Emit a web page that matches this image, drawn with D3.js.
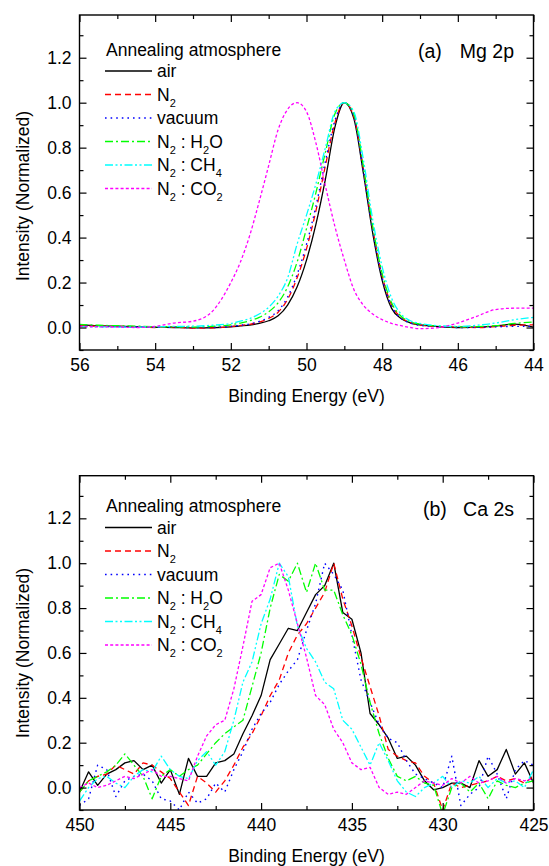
<!DOCTYPE html>
<html>
<head>
<meta charset="utf-8">
<script src="https://cdn.jsdelivr.net/npm/d3@7"></script>
<style>
  html, body { margin: 0; padding: 0; background: #ffffff; }
  svg { display: block; }
  text { font-family: "Liberation Sans", Arial, Helvetica, sans-serif; fill: #000; white-space: pre; }
</style>
</head>
<body>
<svg id="chart" width="549" height="866"></svg>
<script>
// ---------------- DATA ----------------
// Panel (a) Mg 2p
const mgEnergy = [56, 55.5, 55, 54.5, 54, 53.5, 53, 52.5, 52, 51.75, 51.5, 51.25, 51, 50.75, 50.5, 50.25, 50, 49.75, 49.5, 49.25, 49, 48.75, 48.5, 48.25, 48, 47.75, 47.5, 47.25, 47, 46.5, 46, 45.5, 45, 44.5, 44];
const mgAir    = [0.012, 0.008, 0.006, 0.004, 0.001, 0.0, -0.002, -0.001, 0.003, 0.007, 0.011, 0.018, 0.03, 0.052, 0.1, 0.18, 0.3, 0.46, 0.66, 0.89, 1.0, 0.93, 0.69, 0.42, 0.21, 0.085, 0.04, 0.02, 0.012, 0.004, 0.0, 0.002, 0.006, 0.015, 0.002];
const mgN2     = [0.008, 0.006, 0.005, 0.003, 0.0, 0.002, -0.003, -0.002, 0.004, 0.009, 0.014, 0.024, 0.04, 0.068, 0.125, 0.22, 0.35, 0.52, 0.72, 0.91, 1.0, 0.94, 0.71, 0.44, 0.23, 0.1, 0.045, 0.022, 0.012, 0.004, 0.002, 0.0, 0.004, 0.01, 0.012];
const mgVacuum = [0.006, 0.005, 0.004, 0.002, 0.002, 0.001, 0.0, 0.001, 0.005, 0.01, 0.016, 0.027, 0.045, 0.075, 0.135, 0.235, 0.37, 0.54, 0.74, 0.92, 1.0, 0.94, 0.7, 0.43, 0.22, 0.095, 0.04, 0.02, 0.01, 0.004, 0.0, 0.001, 0.003, 0.005, 0.005];
const mgH2O    = [0.014, 0.01, 0.008, 0.006, 0.004, 0.003, 0.002, 0.005, 0.012, 0.02, 0.03, 0.045, 0.07, 0.11, 0.18, 0.29, 0.44, 0.6, 0.78, 0.95, 1.0, 0.95, 0.72, 0.45, 0.24, 0.11, 0.05, 0.025, 0.015, 0.006, 0.003, 0.004, 0.008, 0.018, 0.025];
const mgCH4    = [0.004, 0.003, 0.002, 0.002, 0.003, 0.005, 0.006, 0.01, 0.018, 0.028, 0.04, 0.06, 0.09, 0.14, 0.22, 0.37, 0.5, 0.64, 0.8, 0.96, 1.0, 0.96, 0.75, 0.48, 0.27, 0.13, 0.06, 0.03, 0.018, 0.008, 0.005, 0.01, 0.02, 0.035, 0.045];
const mgCO2    = [0.005, 0.003, 0.002, 0.0, 0.005, 0.02, 0.028, 0.07, 0.2, 0.29, 0.41, 0.56, 0.72, 0.88, 0.97, 1.0, 0.96, 0.82, 0.63, 0.45, 0.3, 0.17, 0.1, 0.06, 0.035, 0.018, 0.008, 0.0, -0.005, 0.0, 0.02, 0.05, 0.08, 0.086, 0.086];

// Panel (b) Ca 2s
const caEnergy = [450, 449.5, 449, 448.5, 448, 447.5, 447, 446.5, 446, 445.5,
                  445, 444.5, 444, 443.5, 443, 442.5, 442, 441.5, 441, 440.5,
                  440, 439.5, 439, 438.5, 438, 437.5, 437, 436.5, 436, 435.5,
                  435, 434.5, 434, 433.5, 433, 432.5, 432, 431.5, 431, 430.5,
                  430, 429.5, 429, 428.5, 428, 427.5, 427, 426.5, 426, 425.5,
                  425];
const caAir = [-0.02, 0.07, 0.01, 0.06, 0.08, 0.11, 0.12, 0.08, 0.1, 0.02,
               0.08, -0.03, 0.13, 0.05, 0.05, 0.11, 0.12, 0.15, 0.24, 0.32,
               0.41, 0.57, 0.64, 0.71, 0.7, 0.78, 0.86, 0.9, 1.0, 0.78,
               0.75, 0.6, 0.33, 0.28, 0.22, 0.13, 0.14, 0.1, 0.03, -0.01,
               0.0, 0.02, 0.02, 0.0, 0.12, 0.05, 0.08, 0.17, 0.06, 0.11,
               0.02];
const caN2 = [-0.02, 0.03, 0.05, 0.06, 0.1, 0.08, 0.06, 0.11, 0.1, 0.07,
              0.04, -0.02, -0.08, 0.05, 0.02, -0.02, 0.03, 0.1, 0.18, 0.24,
              0.32, 0.41, 0.48, 0.6, 0.68, 0.73, 0.8, 0.87, 1.0, 0.84,
              0.72, 0.58, 0.45, 0.32, 0.17, 0.14, 0.12, 0.11, 0.05, 0.02,
              -0.1, 0.02, 0.0, 0.01, 0.02, 0.03, 0.05, 0.03, 0.04, 0.02,
              0.05];
const caVacuum = [-0.08, -0.05, 0.1, 0.08, -0.04, 0.03, 0.05, 0.06, 0.03, -0.05,
                  -0.06, -0.1, -0.02, -0.07, -0.05, 0.02, -0.02, 0.08, 0.16, 0.26,
                  0.33, 0.38, 0.46, 0.52, 0.57, 0.7, 0.82, 1.0, 0.95, 0.88,
                  0.68, 0.48, 0.38, 0.28, 0.22, 0.2, 0.12, 0.06, 0.04, 0.02,
                  0.0, 0.14, -0.08, -0.03, 0.0, 0.14, 0.06, -0.05, 0.08, 0.12,
                  0.1];
const caH2O = [-0.02, 0.03, 0.05, 0.07, 0.1, 0.15, 0.1, 0.05, -0.05, 0.05,
               0.08, 0.05, 0.08, 0.1, 0.15, 0.2, 0.24, 0.27, 0.3, 0.45,
               0.6, 0.8, 0.95, 0.92, 1.0, 0.87, 1.0, 0.88, 0.88, 0.77,
               0.68, 0.55, 0.38, 0.24, 0.13, 0.05, 0.03, 0.05, 0.02, 0.01,
               -0.12, 0.0, 0.02, -0.02, 0.02, -0.05, 0.03, 0.01, 0.0, 0.02,
               0.03];
const caCH4 = [-0.06, 0.0, 0.04, 0.05, 0.02, 0.0, 0.05, 0.08, 0.07, 0.14,
               0.08, 0.05, 0.04, 0.12, 0.16, 0.1, 0.16, 0.3, 0.47, 0.56,
               0.73, 0.84, 1.0, 0.94, 0.72, 0.62, 0.56, 0.47, 0.44, 0.3,
               0.26, 0.18, 0.1, 0.2, 0.12, 0.03, -0.02, -0.04, 0.0, 0.02,
               0.05, 0.0, 0.03, 0.02, 0.05, 0.0, 0.04, 0.02, 0.03, 0.0,
               0.08];
const caCO2 = [0.0, 0.02, 0.0, 0.01, 0.03, 0.05, 0.04, 0.06, 0.08, 0.05,
               0.05, 0.04, 0.03, 0.14, 0.23, 0.28, 0.3, 0.44, 0.63, 0.83,
               0.86, 0.98, 1.0, 0.88, 0.73, 0.58, 0.41, 0.37, 0.26, 0.2,
               0.11, 0.08, 0.09, 0.0, -0.03, -0.02, -0.03, 0.0, 0.03, 0.02,
               0.01, 0.04, 0.02, 0.05, 0.02, 0.03, 0.05, 0.02, 0.04, 0.03,
               0.04];

// Tick values
const mgMajorTicks = [56, 54, 52, 50, 48, 46, 44];
const mgMinorTicks = [55, 53, 51, 49, 47, 45];
const caMajorTicks = [450, 445, 440, 435, 430, 425];
const caMinorTicks = [447.5, 442.5, 437.5, 432.5, 427.5];
const yMajorTicks = [0.0, 0.2, 0.4, 0.6, 0.8, 1.0, 1.2];
const yMinorTicks = [-0.1, 0.1, 0.3, 0.5, 0.7, 0.9, 1.1, 1.3];
const yDomain = [-0.1, 1.39];

// Legend text
const legendTitle = "Annealing atmosphere";
const seriesNames = ["air", "N2", "vacuum", "N2 : H2O", "N2 : CH4", "N2 : CO2"];
const legendParts = [
  [["air"]],
  [["N"], ["2", "sub"]],
  [["vacuum"]],
  [["N"], ["2", "sub"], [" : H"], ["2", "sub"], ["O"]],
  [["N"], ["2", "sub"], [" : CH"], ["4", "sub"]],
  [["N"], ["2", "sub"], [" : CO"], ["2", "sub"]]
];
const panelLabels = [["(a)", "Mg 2p"], ["(b)", "Ca 2s"]];
const xTitle = "Binding Energy (eV)";
const yTitle = "Intensity (Normalized)";

// ---------------- STYLES ----------------
const seriesStyles = [
  { color: "#000000", dash: null, width: 1.3 },
  { color: "#ff0000", dash: "6,4", width: 1.3 },
  { color: "#0000ff", dash: "1.6,4", width: 1.4 },
  { color: "#00ff00", dash: "8,3,2,3", width: 1.3 },
  { color: "#00ffff", dash: "8,2.5,2,2.5,2,2.5", width: 1.3 },
  { color: "#ff00ff", dash: "3,2.2", width: 1.3 }
];

const svg = d3.select("#chart");

const panels = [
  {
    id: "a", energy: mgEnergy,
    series: [mgAir, mgN2, mgVacuum, mgH2O, mgCH4, mgCO2],
    xDomain: [56, 44], major: mgMajorTicks, minor: mgMinorTicks,
    x0: 79.5, x1: 533.5, y0: 15, y1: 350,
    curve: d3.curveMonotoneX,
    legendTitleY: 55.5, legendRow0: 71, yTitleCenter: 196,
    label: panelLabels[0], labelY: 57.5
  },
  {
    id: "b", energy: caEnergy,
    series: [caAir, caN2, caVacuum, caH2O, caCH4, caCO2],
    xDomain: [450, 425], major: caMajorTicks, minor: caMinorTicks,
    x0: 79.5, x1: 533.5, y0: 475.7, y1: 810,
    curve: d3.curveLinear,
    legendTitleY: 512, legendRow0: 527.5, yTitleCenter: 653,
    label: panelLabels[1], labelY: 515.5
  }
];

const FS = 17.5;

panels.forEach(p => {
  const g = svg.append("g");
  const x = d3.scaleLinear().domain(p.xDomain).range([p.x0, p.x1]);
  const y = d3.scaleLinear().domain(yDomain).range([p.y1, p.y0]);

  const clipId = "clip-" + p.id;
  g.append("clipPath").attr("id", clipId)
    .append("rect").attr("x", p.x0).attr("y", p.y0)
    .attr("width", p.x1 - p.x0).attr("height", p.y1 - p.y0);

  // Curves
  const line = d3.line().x(d => x(d[0])).y(d => y(d[1])).curve(p.curve);
  const plot = g.append("g").attr("clip-path", `url(#${clipId})`);
  p.series.forEach((vals, i) => {
    const pts = p.energy.map((e, k) => [e, vals[k]]);
    const st = seriesStyles[i];
    plot.append("path")
      .datum(pts)
      .attr("d", line)
      .attr("fill", "none")
      .attr("stroke", st.color)
      .attr("stroke-width", st.width)
      .attr("stroke-dasharray", st.dash)
      .attr("stroke-linejoin", "round");
  });

  // Axes (ticks inward)
  const styleAxis = sel => {
    sel.select(".domain").remove();
    sel.selectAll("line").attr("stroke", "#000").attr("stroke-width", 1.2);
    sel.selectAll("text").attr("font-size", FS).attr("fill", "#000")
      .attr("font-family", '"Liberation Sans", Arial, Helvetica, sans-serif');
  };
  const MAJ = 7, MIN = 4;
  g.append("g").attr("transform", `translate(0,${p.y1})`)
    .call(d3.axisBottom(x).tickValues(p.major).tickSizeInner(-MAJ).tickSizeOuter(0)
      .tickPadding(9).tickFormat(d3.format("d"))).call(styleAxis);
  g.append("g").attr("transform", `translate(0,${p.y1})`)
    .call(d3.axisBottom(x).tickValues(p.minor).tickSizeInner(-MIN).tickSizeOuter(0)
      .tickFormat(() => "")).call(styleAxis);
  g.append("g").attr("transform", `translate(0,${p.y0})`)
    .call(d3.axisTop(x).tickValues(p.major).tickSizeInner(-MAJ).tickSizeOuter(0)
      .tickFormat(() => "")).call(styleAxis);
  g.append("g").attr("transform", `translate(0,${p.y0})`)
    .call(d3.axisTop(x).tickValues(p.minor).tickSizeInner(-MIN).tickSizeOuter(0)
      .tickFormat(() => "")).call(styleAxis);
  g.append("g").attr("transform", `translate(${p.x0},0)`)
    .call(d3.axisLeft(y).tickValues(yMajorTicks).tickSizeInner(-MAJ).tickSizeOuter(0)
      .tickPadding(8).tickFormat(d3.format(".1f"))).call(styleAxis);
  g.append("g").attr("transform", `translate(${p.x0},0)`)
    .call(d3.axisLeft(y).tickValues(yMinorTicks).tickSizeInner(-MIN).tickSizeOuter(0)
      .tickFormat(() => "")).call(styleAxis);
  g.append("g").attr("transform", `translate(${p.x1},0)`)
    .call(d3.axisRight(y).tickValues(yMajorTicks).tickSizeInner(-MAJ).tickSizeOuter(0)
      .tickFormat(() => "")).call(styleAxis);
  g.append("g").attr("transform", `translate(${p.x1},0)`)
    .call(d3.axisRight(y).tickValues(yMinorTicks).tickSizeInner(-MIN).tickSizeOuter(0)
      .tickFormat(() => "")).call(styleAxis);

  // Frame
  g.append("rect").attr("x", p.x0).attr("y", p.y0)
    .attr("width", p.x1 - p.x0).attr("height", p.y1 - p.y0)
    .attr("fill", "none").attr("stroke", "#000").attr("stroke-width", 1.4);

  // Axis titles
  g.append("text").attr("x", (p.x0 + p.x1) / 2).attr("y", p.y1 + 52)
    .attr("text-anchor", "middle").attr("font-size", FS).text(xTitle);
  g.append("text")
    .attr("transform", `translate(29,${p.yTitleCenter}) rotate(-90)`)
    .attr("text-anchor", "middle").attr("font-size", FS).text(yTitle);

  // Legend
  const lx0 = 105, lx1 = 152, tx = 157, rowH = 23.5;
  g.append("text").attr("x", 106).attr("y", p.legendTitleY)
    .attr("font-size", FS).text(legendTitle);
  legendParts.forEach((parts, i) => {
    const ly = p.legendRow0 + i * rowH;
    const st = seriesStyles[i];
    g.append("line").attr("x1", lx0).attr("x2", lx1).attr("y1", ly).attr("y2", ly)
      .attr("stroke", st.color).attr("stroke-width", st.width)
      .attr("stroke-dasharray", st.dash);
    const t = g.append("text").attr("x", tx).attr("y", ly + 6).attr("font-size", FS)
      .attr("aria-label", seriesNames[i]);
    let prevSub = false;
    parts.forEach(([s, kind]) => {
      const ts = t.append("tspan").text(s);
      if (kind === "sub") {
        ts.attr("font-size", 11).attr("dy", 6);
        prevSub = true;
      } else if (prevSub) {
        ts.attr("dy", -6);
        prevSub = false;
      }
    });
  });

  // Panel label
  g.append("text").attr("x", 418 + (p.id === "b" ? 5 : 0)).attr("y", p.labelY)
    .attr("font-size", 19.5).text(p.label[0]);
  g.append("text").attr("x", 514).attr("y", p.labelY)
    .attr("text-anchor", "end").attr("font-size", 19.5).text(p.label[1]);
});
</script>
</body>
</html>
